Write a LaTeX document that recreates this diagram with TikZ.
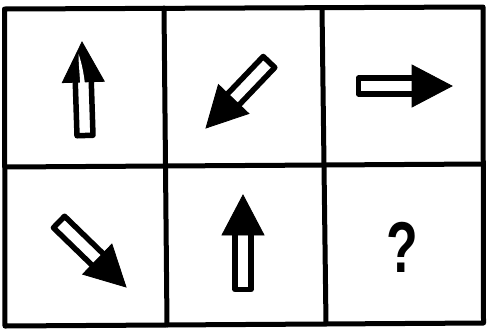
\documentclass[tikz,border=0pt]{standalone}
\usepackage{fontspec}
\newfontfamily\qfont{Liberation Sans}
\usetikzlibrary{calc}
\tikzset{
  gridline/.style={line width=5pt, line cap=round, line join=round},
  shaftline/.style={line width=5.5pt, fill=white, line join=round, draw=black},
  headfill/.style={fill=black, draw=black, line width=0.8pt, line join=miter},
}
\newcommand\blockarrow[2]{%
  \coordinate (hb) at ($(#2)!40pt!(#1)$);
  \coordinate (hs) at ($(#2)!37pt!(#1)$);
  \draw[shaftline] ($(#1)!8pt!90:(#2)$) -- ($(#1)!8pt!-90:(#2)$)
     -- ($(hs)!8pt!90:(#1)$) -- ($(hs)!8pt!-90:(#1)$) -- cycle;
  \filldraw[headfill] ($(hb)!21pt!90:(#2)$) -- (#2) -- ($(hb)!21pt!-90:(#2)$) -- cycle;
}
\begin{document}
\begin{tikzpicture}[x=1pt,y=-1pt]
\useasboundingbox (0,0) rectangle (487,333);
\fill[white] (0,0) rectangle (487,333);
% grid
\coordinate (tl) at (4.5,9);
\coordinate (tr) at (483,7);
\coordinate (bl) at (5,326);
\coordinate (br) at (483.5,323);
\coordinate (v1t) at (164,8);
\coordinate (v1b) at (167,325);
\coordinate (v2t) at (322,7.5);
\coordinate (v2b) at (326,324);
\coordinate (hl) at (5,167);
\coordinate (hr) at (483,164);
\draw[gridline] (tl) -- (tr) -- (br) -- (bl) -- cycle;
\draw[gridline] (v1t) -- (v1b);
\draw[gridline] (v2t) -- (v2b);
\draw[gridline] (hl) -- (hr);
% arrow end points
\coordinate (a1t) at (85,135.5);
\coordinate (a1p) at (82,42);
\coordinate (a2t) at (269,62);
\coordinate (a2p) at (206,128);
\coordinate (a3t) at (358.5,86);
\coordinate (a3p) at (452,86);
\coordinate (a4t) at (59,222);
\coordinate (a4p) at (126,287);
\coordinate (a5t) at (243,289.5);
\coordinate (a5p) at (243,195);
\blockarrow{a1t}{a1p}
\blockarrow{a2t}{a2p}
\blockarrow{a3t}{a3p}
\blockarrow{a4t}{a4p}
\blockarrow{a5t}{a5p}
% white streak in first arrow head
\fill[white] (80.5,90) -- (85.5,90) .. controls (84.5,76) and (81.5,62) .. (78.5,54)
   .. controls (78.5,64) and (80,76) .. cycle;
% question mark
\node[font=\qfont\bfseries\fontsize{72}{72}\selectfont, xscale=0.72, inner sep=0pt] (q) at (402,247) {?};
\end{tikzpicture}
\end{document}
